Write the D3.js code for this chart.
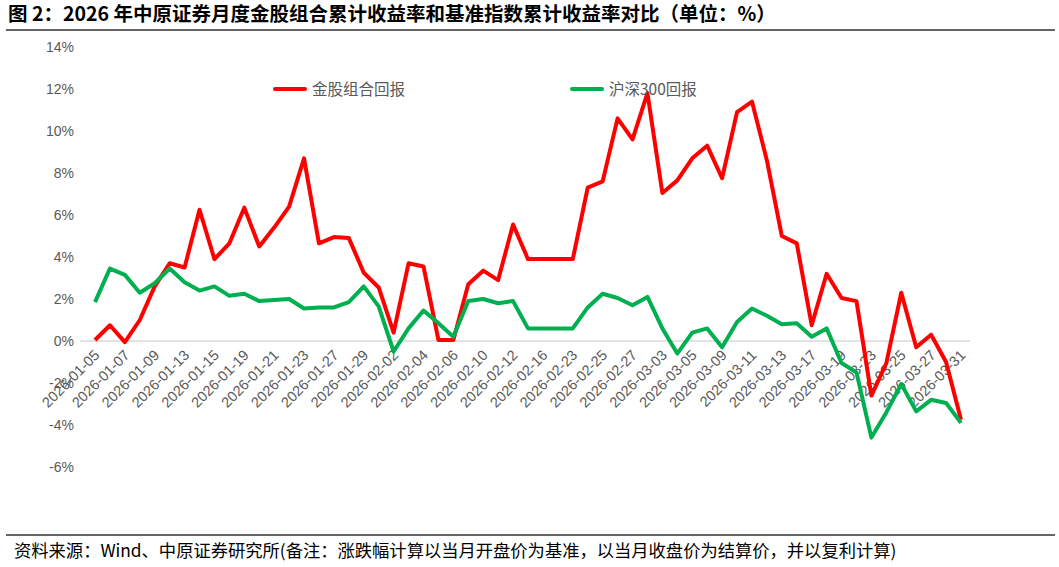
<!DOCTYPE html>
<html><head><meta charset="utf-8">
<script src="https://cdn.jsdelivr.net/npm/d3@7"></script>
<style>body{margin:0;background:#fff;}svg{display:block;}</style>
</head><body><svg id="c" width="1059" height="567"></svg>
<script>
const dates = ["2026-01-05","2026-01-06","2026-01-07","2026-01-08","2026-01-09","2026-01-12","2026-01-13","2026-01-14","2026-01-15","2026-01-16",
"2026-01-19","2026-01-20","2026-01-21","2026-01-22","2026-01-23","2026-01-26","2026-01-27","2026-01-28","2026-01-29","2026-01-30",
"2026-02-02","2026-02-03","2026-02-04","2026-02-05","2026-02-06","2026-02-09","2026-02-10","2026-02-11","2026-02-12","2026-02-13",
"2026-02-16","2026-02-20","2026-02-23","2026-02-24","2026-02-25","2026-02-26","2026-02-27","2026-03-02","2026-03-03","2026-03-04",
"2026-03-05","2026-03-06","2026-03-09","2026-03-10","2026-03-11","2026-03-12","2026-03-13","2026-03-16","2026-03-17","2026-03-18",
"2026-03-19","2026-03-20","2026-03-23","2026-03-24","2026-03-25","2026-03-26","2026-03-27","2026-03-30","2026-03-31"];
const goldReturn = [0.05,0.75,-0.05,1.0,2.6,3.7,3.5,6.25,3.9,4.65,
6.35,4.5,5.4,6.4,8.7,4.65,4.95,4.9,3.25,2.55,
0.4,3.7,3.55,0.05,0.05,2.7,3.35,2.9,5.55,3.9,
3.9,3.9,3.9,7.3,7.6,10.6,9.6,11.8,7.05,7.65,
8.7,9.3,7.75,10.9,11.4,8.6,5.0,4.65,0.75,3.2,
2.05,1.9,-2.6,-1.05,2.3,-0.3,0.3,-1.0,-3.75];
const hs300Return = [1.85,3.45,3.15,2.3,2.75,3.45,2.8,2.4,2.6,2.15,
2.25,1.9,1.95,2.0,1.55,1.6,1.6,1.85,2.6,1.65,
-0.5,0.6,1.45,0.85,0.2,1.9,2.0,1.8,1.9,0.6,
0.6,0.6,0.6,1.6,2.25,2.05,1.7,2.1,0.6,-0.6,
0.4,0.6,-0.3,0.9,1.55,1.2,0.8,0.85,0.2,0.6,
-1.05,-1.5,-4.6,-3.4,-2.05,-3.35,-2.8,-2.95,-3.9];
const yTicks = [-6,-4,-2,0,2,4,6,8,10,12,14];
const seriesNames = ["金股组合回报","沪深300回报"];
const colors = ["#FF0000","#00B050"];

const svg = d3.select("#c");
svg.append("text").attr("x",8).attr("y",21).attr("font-family","Noto Sans CJK SC").attr("font-weight","bold")
  .attr("font-size",19.5).attr("fill","#000").text("图 2：2026 年中原证券月度金股组合累计收益率和基准指数累计收益率对比（单位：%）");
svg.append("line").attr("x1",6).attr("x2",1055).attr("y1",30).attr("y2",30).attr("stroke","#333").attr("stroke-width",1.5);
svg.append("line").attr("x1",6).attr("x2",1055).attr("y1",535).attr("y2",535).attr("stroke","#333").attr("stroke-width",1.5);
svg.append("text").attr("x",14).attr("y",557).attr("font-family","Noto Sans CJK SC").attr("font-size",17.3).attr("fill","#000")
  .text("资料来源：Wind、中原证券研究所(备注：涨跌幅计算以当月开盘价为基准，以当月收盘价为结算价，并以复利计算)");

const x = d3.scalePoint().domain(dates).range([95,961]);
const y = d3.scaleLinear().domain([-6,14]).range([467,47]);

const yAxis = svg.append("g").attr("transform","translate(74,0)")
  .call(d3.axisLeft(y).tickValues(yTicks).tickSize(0).tickPadding(0).tickFormat(d=>d+"%"));
yAxis.select(".domain").remove();
yAxis.selectAll("text").attr("font-family","Liberation Sans").attr("font-size",14).attr("fill","#595959");

svg.append("line").attr("x1",80).attr("x2",970).attr("y1",y(0)).attr("y2",y(0)).attr("stroke","#D9D9D9").attr("stroke-width",1.5);

const xAxis = svg.append("g").attr("transform",`translate(0,${y(0)})`)
  .call(d3.axisBottom(x).tickValues(dates.filter((d,i)=>i%2===0)).tickSize(0).tickPadding(0));
xAxis.select(".domain").remove();
xAxis.selectAll("text").attr("font-family","Liberation Sans").attr("font-size",14.5).attr("fill","#595959")
  .attr("text-anchor","end").attr("dy","0").attr("transform","translate(5,15) rotate(-45)");

const line = d3.line().x((d,i)=>x(dates[i])).y(d=>y(d));
[goldReturn,hs300Return].forEach((s,k)=>{
  svg.append("path").datum(s).attr("d",line).attr("fill","none").attr("stroke",colors[k])
    .attr("stroke-width",4).attr("stroke-linejoin","round");
});

const lg = [[275,312],[572,609]];
seriesNames.forEach((n,k)=>{
  svg.append("line").attr("x1",lg[k][0]).attr("x2",lg[k][0]+30).attr("y1",89).attr("y2",89).attr("stroke",colors[k]).attr("stroke-width",4).attr("stroke-linecap","round");
  svg.append("text").attr("x",lg[k][1]).attr("y",94.5).attr("font-family","Noto Sans CJK SC").attr("font-size",15.5).attr("fill","#595959").text(n);
});
</script></body></html>
